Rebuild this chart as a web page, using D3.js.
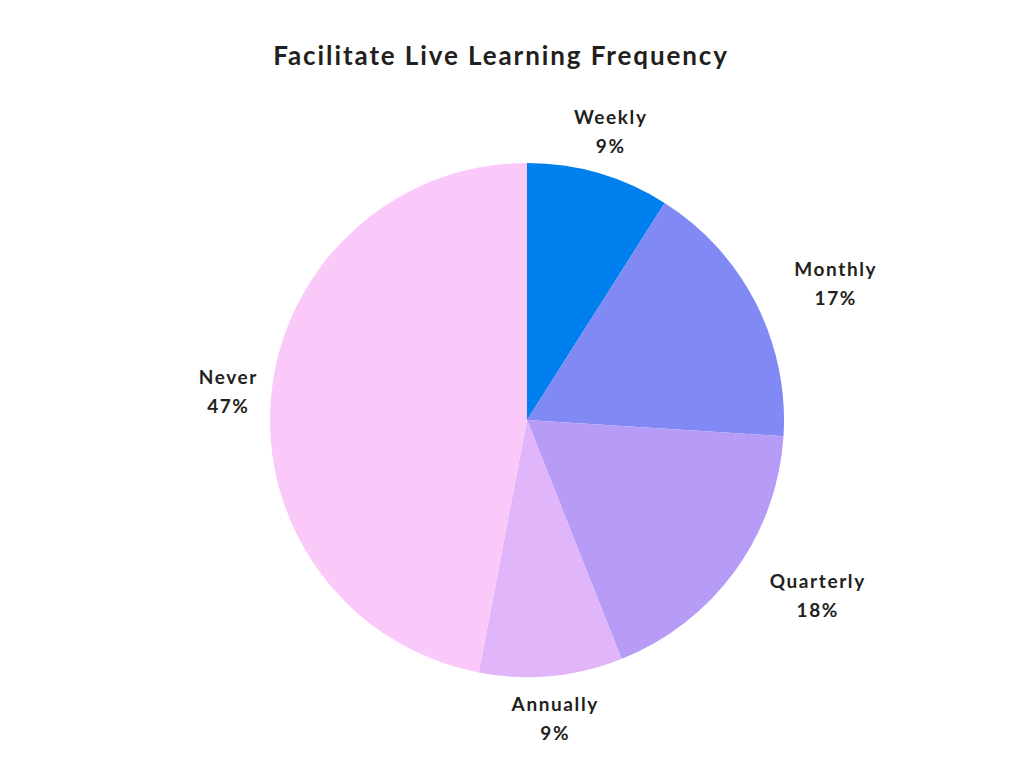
<!DOCTYPE html>
<html>
<head>
    <meta charset="UTF-8">
    <title>Facilitate Live Learning Frequency</title>
    <script src="https://d3js.org/d3.v7.min.js"></script>
    <style>
        body { margin: 0; background: #fff; }
        text { font-family: "Lato", "Open Sans", sans-serif; font-weight: 700; fill: #231f20; }
    </style>
</head>
<body>
    <svg id="chart" width="1024" height="768"></svg>
    <script>
        // chart data
        var categories = ["Weekly", "Monthly", "Quarterly", "Annually", "Never"];
        var values = [9, 17, 18, 9, 47];
        var colors = ["#007fee", "#8089f4", "#b69bf7", "#e0b5fa", "#fbc8fa"];

        var width = 1024, height = 768;
        var cx = 527, cy = 420, radius = 257, labelRadius = 300;

        var svg = d3.select("#chart");

        svg.append("text")
            .attr("x", 501)
            .attr("y", 65)
            .attr("text-anchor", "middle")
            .style("font-size", "26px")
            .style("letter-spacing", "1.9px")
            .text("Facilitate Live Learning Frequency");

        var data = categories.map(function(c, i) { return { name: c, value: values[i], color: colors[i] }; });

        var pie = d3.pie().value(function(d) { return d.value; }).sort(null);
        var arc = d3.arc().innerRadius(0).outerRadius(radius);
        var arcs = pie(data);

        var g = svg.append("g").attr("transform", "translate(" + cx + "," + cy + ")");

        g.selectAll("path")
            .data(arcs)
            .enter().append("path")
            .attr("d", arc)
            .attr("fill", function(d) { return d.data.color; });

        // labels: anchor on a circle outside the pie, right-side labels start at the anchor
        var labels = g.selectAll(".label")
            .data(arcs)
            .enter().append("g")
            .attr("class", "label");

        labels.each(function(d) {
            var lab = d3.select(this);
            var mid = (d.startAngle + d.endAngle) / 2;
            var x = Math.sin(mid) * labelRadius;
            var y = -Math.cos(mid) * labelRadius;
            var t = lab.append("text")
                .attr("text-anchor", "middle")
                .style("font-size", "19px")
                .style("letter-spacing", "1.6px");
            t.append("tspan").attr("x", 0).attr("y", -8).text(d.data.name);
            t.append("tspan").attr("x", 0).attr("y", 21).text(d.data.value + "%");
            var w = t.node().getBBox().width;
            var dx = (mid > Math.PI / 4 && mid < 3 * Math.PI / 4) ? w / 2 : 0;
            lab.attr("transform", "translate(" + (x + dx) + "," + y + ")");
        });
    </script>
</body>
</html>
